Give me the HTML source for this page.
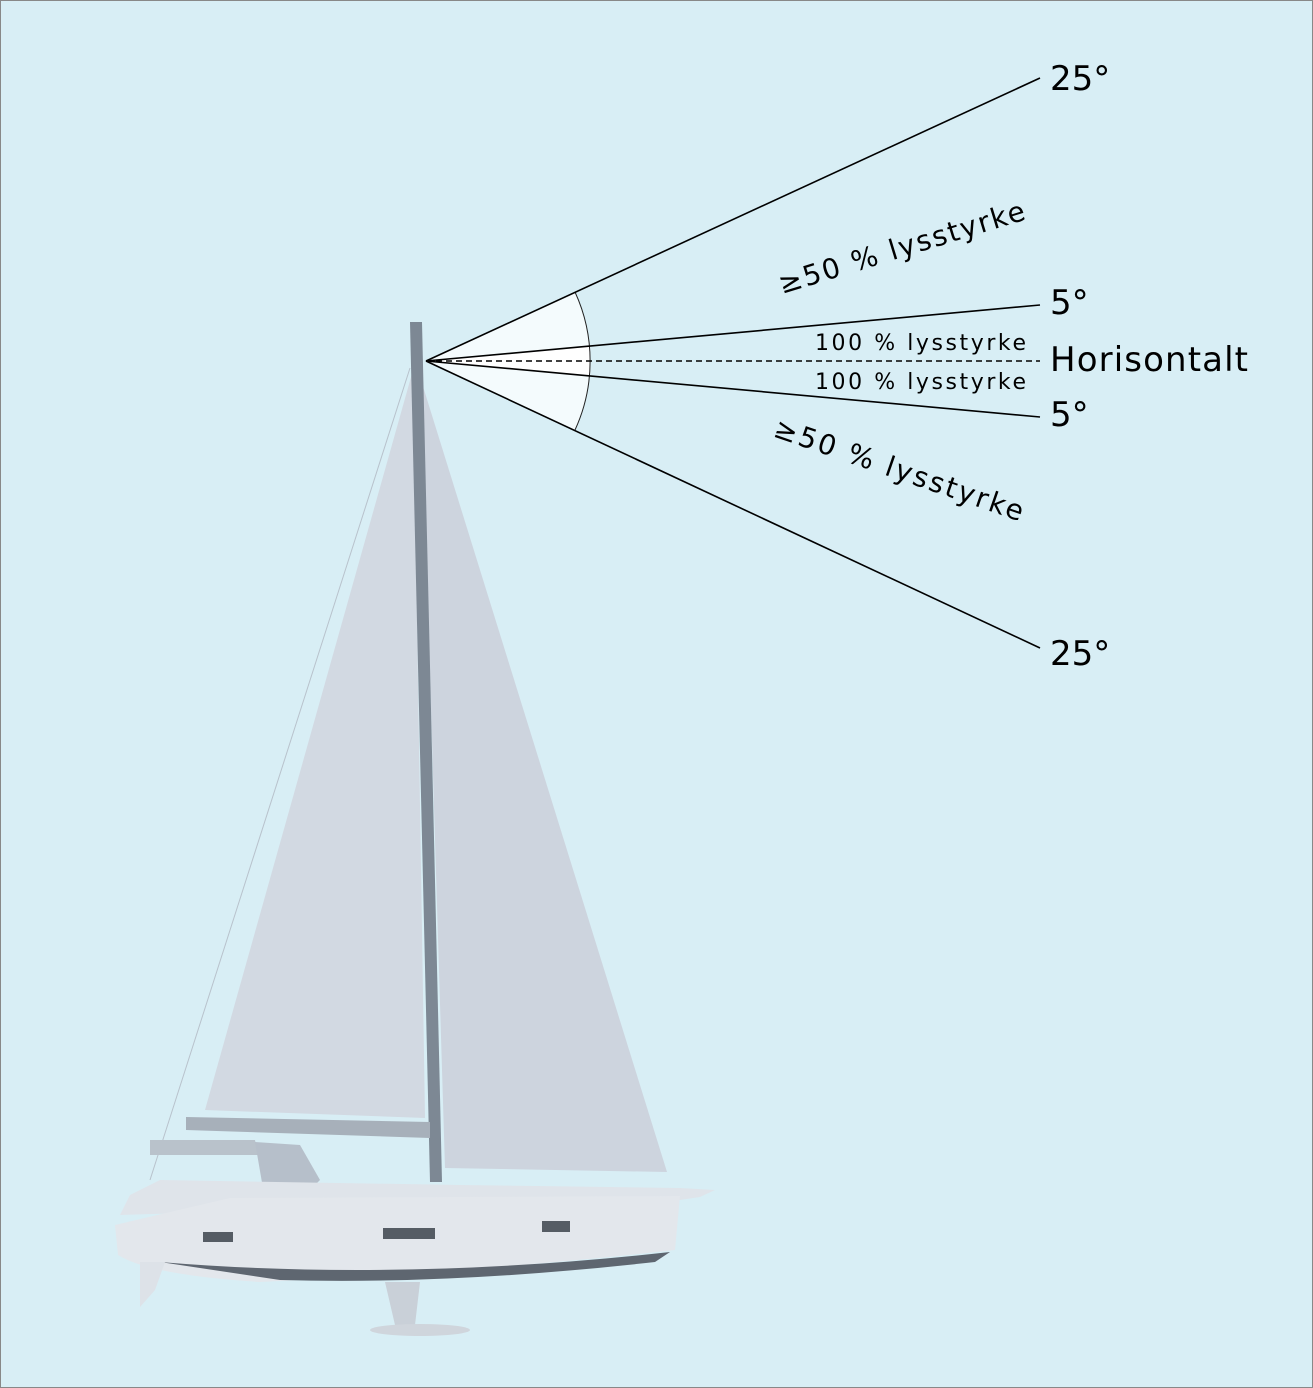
<!DOCTYPE html>
<html><head><meta charset="utf-8"><style>
html,body{margin:0;padding:0;background:#d8eef5;}
svg{display:block;font-family:"DejaVu Sans","Liberation Sans",sans-serif;}
</style></head><body>
<svg width="1313" height="1388" viewBox="0 0 1313 1388" xmlns="http://www.w3.org/2000/svg">
<rect x="0.5" y="0.5" width="1312" height="1387" fill="#d8eef5" stroke="#888" stroke-width="1"/>
<path d="M426 361 L575 292 A165 165 0 0 1 575 430 Z" fill="#f4fbfd"/>
<path d="M426 361 L590 346 A165 165 0 0 1 590 376 Z" fill="#ffffff"/>
<path d="M575 292 A165 165 0 0 1 575 430" fill="none" stroke="#222" stroke-width="1"/>
<g stroke="#000" stroke-width="1.6" fill="none">
<line x1="426" y1="361" x2="1040" y2="78"/>
<line x1="426" y1="361" x2="1040" y2="305"/>
<line x1="426" y1="361" x2="1040" y2="417"/>
<line x1="426" y1="361" x2="1040" y2="648"/>
<line x1="426" y1="361" x2="1040" y2="361" stroke-dasharray="6,4"/>
</g>
<g fill="#000">
<text x="1050" y="90" font-size="34">25°</text>
<text x="1050" y="314" font-size="34">5°</text>
<text x="1050" y="371" font-size="34" textLength="198">Horisontalt</text>
<text x="1050" y="426" font-size="34">5°</text>
<text x="1050" y="665" font-size="34">25°</text>
<text x="815" y="350" font-size="22" textLength="211">100 % lysstyrke</text>
<text x="815" y="389" font-size="22" textLength="211">100 % lysstyrke</text>
<text transform="translate(782,294) rotate(-17)" font-size="28" textLength="256">≥50 % lysstyrke</text>
<text transform="translate(772,436) rotate(19)" font-size="28" textLength="262">≥50 % lysstyrke</text>
</g>
<!-- boat -->
<polygon points="413,370 205,1110 425,1118" fill="#d2d9e2"/>
<polygon points="421,380 667,1172 445,1168" fill="#cdd4de"/>
<line x1="410" y1="368" x2="150" y2="1180" stroke="#b8c2cc" stroke-width="1"/>
<polygon points="410,322 422,322 442,1182 430,1182" fill="#7d8894"/>
<polygon points="186,1117 430,1122 430,1138 186,1130" fill="#a7b0ba"/>
<polygon points="150,1140 255,1140 258,1155 150,1155" fill="#b9c2cb"/>
<polygon points="255,1142 300,1145 320,1180 300,1200 265,1200" fill="#b6bfca"/>
<polygon points="130,1195 160,1180 460,1185 680,1188 715,1190 700,1197 680,1200 460,1205 120,1215" fill="#dfe4ea"/>
<path d="M115 1225 L230 1198 L680 1196 L675 1250 Q500 1270 260 1282 Q150 1275 118 1255 Z" fill="#e3e7ec"/>
<path d="M160 1262 Q400 1282 670 1252 L655 1262 Q450 1285 280 1280 Z" fill="#5e6670"/>
<polygon points="140,1262 165,1262 155,1290 140,1307" fill="#dde2e8"/>
<polygon points="385,1282 420,1282 415,1325 395,1325" fill="#c9d0d8"/>
<ellipse cx="420" cy="1330" rx="50" ry="6" fill="#cfd5dc"/>
<rect x="203" y="1232" width="30" height="10" fill="#555c64"/>
<rect x="383" y="1228" width="52" height="11" fill="#555c64"/>
<rect x="542" y="1221" width="28" height="11" fill="#555c64"/>
</svg>
</body></html>
